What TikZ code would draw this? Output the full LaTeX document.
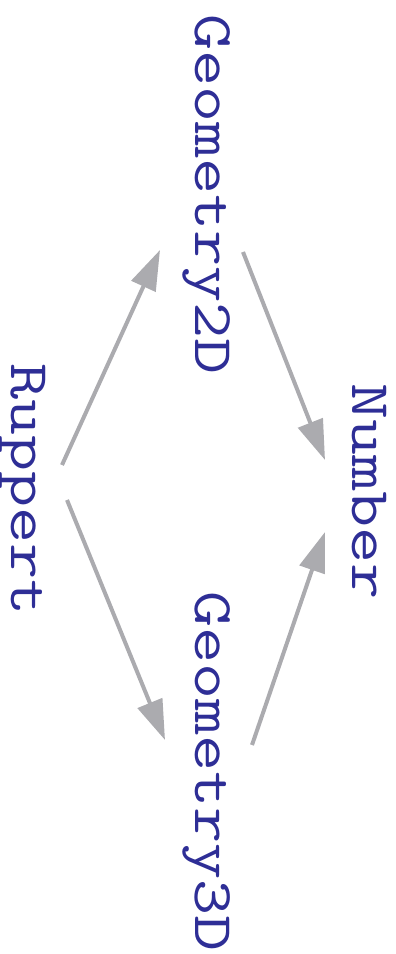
\documentclass[tikz,border=0pt]{standalone}
\usepackage{fontspec}
\setmonofont[FakeStretch=1.25]{Latin Modern Mono}
\usetikzlibrary{arrows.meta}

\definecolor{bleu}{RGB}{46,46,150}
\definecolor{gris}{RGB}{171,171,175}

\tikzset{
  classe/.style={rotate=-90, anchor=base west, inner sep=0pt, text=bleu,
    font=\ttfamily\fontsize{56}{66}\selectfont},
  lien/.style={line width=4pt, gris, -{Triangle[length=40pt,width=26pt]}}
}

\begin{document}
\begin{tikzpicture}[x=1pt,y=1pt]
 \useasboundingbox (0,0) rectangle (396,954);

	% Classes
 \node[classe] (rup) at (12,591) {Ruppert};
 \node[classe] (g2d) at (195,940) {Geometry2D};
 \node[classe] (g3d) at (195,363) {Geometry3D};
 \node[classe] (num) at (352,571) {Number};

	% Dependances
 \draw[lien] ([shift={(50,-102)}]rup.base west) -- ([shift={(-35,-236)}]g2d.base west);
 \draw[lien] ([shift={(55,-137)}]rup.base west) -- ([shift={(-30,-149)}]g3d.base west);
 \draw[lien] ([shift={(48,-238)}]g2d.base west) -- ([shift={(-27,-77)}]num.base west);
 \draw[lien] ([shift={(57,-154)}]g3d.base west) -- ([shift={(-27,-149)}]num.base west);

\end{tikzpicture}
\end{document}
